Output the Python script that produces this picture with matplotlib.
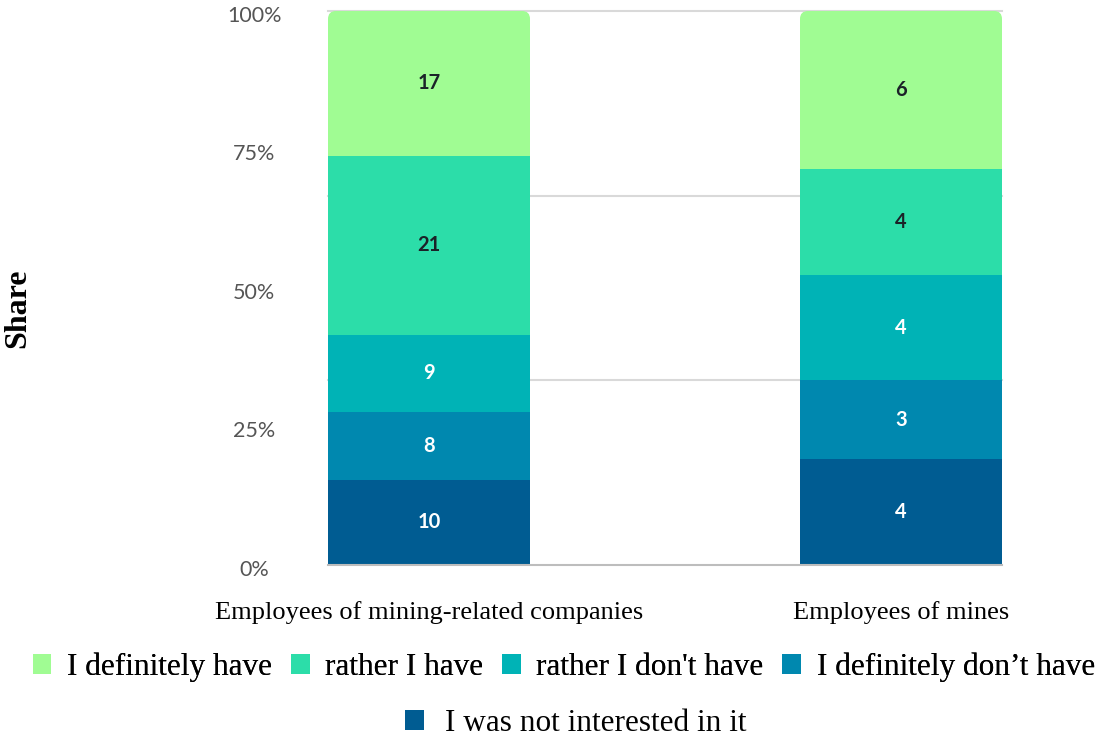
import matplotlib
matplotlib.use("Agg")
import matplotlib.pyplot as plt
from matplotlib.patches import Patch, FancyBboxPatch
from matplotlib.transforms import IdentityTransform, ScaledTranslation
import numpy as np

# Survey answers per respondent group (counts)
categories = ["Employees of mining-related companies", "Employees of mines"]
series_names = ["I was not interested in it", "I definitely don\u2019t have",
                "rather I don't have", "rather I have", "I definitely have"]
not_interested = [10, 4]
definitely_dont = [8, 3]
rather_dont = [9, 4]
rather_have = [21, 4]
definitely_have = [17, 6]
series_values = [not_interested, definitely_dont, rather_dont, rather_have, definitely_have]
series_colors = ["#005C92", "#0088AF", "#00B3B6", "#2CDDA9", "#A0FC93"]
label_colors = ["white", "white", "white", "#1b2228", "#1b2228"]
y_tick_values = [0, 0.25, 0.5, 0.75, 1.0]
y_tick_labels = ["0%", "25%", "50%", "75%", "100%"]

fig = plt.figure(figsize=(10.97, 7.47), dpi=100)
ax = fig.add_axes([0.299, 0.2437, 0.6144, 0.7416])

counts = np.array(series_values, dtype=float)
totals = counts.sum(axis=0)
shares = counts / totals
x = np.arange(len(categories))
width = 0.428

bottom = np.zeros(len(categories))
containers = []
for vals, cnt, col, lc in zip(shares, series_values, series_colors, label_colors):
    bc = ax.bar(x, vals, width, bottom=bottom, color=col, linewidth=0, zorder=3)
    ax.bar_label(bc, labels=[str(c) for c in cnt], label_type="center",
                 color=lc, fontsize=14.5, fontweight="bold", family="Lato", zorder=4)
    containers.append(bc)
    bottom += vals

ax.set_xlim(-width / 2, len(categories) - 1 + width / 2)
ax.set_ylim(0, 1)

# Major ticks carry the percentage labels, minor ticks carry the grid
ax.yaxis.remove_overlapping_locs = False
ax.set_yticks(y_tick_values)
ax.set_yticklabels(y_tick_labels)
ax.set_yticks([1 / 3, 2 / 3, 1.0], minor=True)
ax.yaxis.grid(True, which="minor", color="#d9d9d9", linewidth=1.5, zorder=0)
ax.yaxis.grid(False, which="major")
for tk in ax.yaxis.get_minor_ticks():
    tk.gridline.set_clip_on(False)
ax.tick_params(axis="y", which="both", length=0)
ax.tick_params(axis="y", which="major", pad=53, labelsize=15.5, labelcolor="#555555")
shift_down = ScaledTranslation(0, -3 / 100, fig.dpi_scale_trans)
for lbl in ax.get_yticklabels():
    lbl.set_horizontalalignment("center")
    lbl.set_family("Lato")
    lbl.set_transform(lbl.get_transform() + shift_down)

ax.set_xticks(x)
ax.set_xticklabels(categories, family="Liberation Serif", fontsize=19)
ax.tick_params(axis="x", length=0, pad=26)

for side in ["top", "left", "right"]:
    ax.spines[side].set_visible(False)
ax.spines["bottom"].set_color("#bdbdbd")
ax.spines["bottom"].set_linewidth(1.5)
ax.spines["bottom"].set_zorder(5)

fig.text(0.016, 0.588, "Share", rotation=90, ha="center", va="center",
         family="Liberation Serif", fontweight="bold", fontsize=23)

# Legend: four entries on the first row, the last one centred below
handles = [Patch(facecolor=c, edgecolor="none") for c in series_colors]
order1 = [4, 3, 2, 1]
leg1 = fig.legend([handles[i] for i in order1], [series_names[i] for i in order1],
                  loc="center", bbox_to_anchor=(0.514, 0.107), ncol=4, frameon=False,
                  prop={"family": "Liberation Serif", "size": 22.5},
                  handlelength=0.6, handleheight=0.6, handletextpad=0.5,
                  columnspacing=0.6, borderpad=0.1)
fig.add_artist(leg1)
leg2 = fig.legend([handles[0]], [series_names[0]], loc="center",
                  bbox_to_anchor=(0.525, 0.032), frameon=False,
                  prop={"family": "Liberation Serif", "size": 22.5},
                  handlelength=0.6, handleheight=0.6, handletextpad=0.7,
                  borderpad=0.1)

# Round the upper corners of the top segments
fig.canvas.draw()
for rect in containers[-1]:
    bb = rect.get_window_extent()
    r = 8
    clip = FancyBboxPatch((bb.x0, bb.y0 - 2 * r), bb.width, bb.height + 2 * r,
                          boxstyle=f"round,pad=0,rounding_size={r}",
                          transform=IdentityTransform())
    rect.set_clip_path(clip)

fig.savefig("out.png", dpi=100)
